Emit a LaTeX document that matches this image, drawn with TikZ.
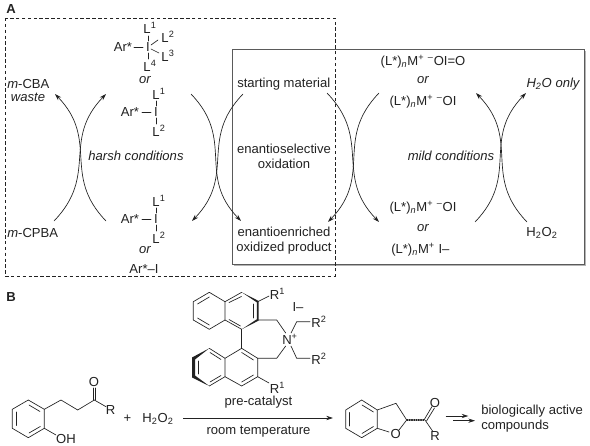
\documentclass[tikz,border=0pt]{standalone}
\usepackage{fontspec}
\setmainfont{Liberation Sans}
\usepackage{tikz}
\usetikzlibrary{arrows.meta}
\definecolor{BoxEdge}{HTML}{5A5A5A}
\definecolor{BoxShade}{HTML}{B4B4B4}
\definecolor{InkGray}{HTML}{222222}
\tikzset{
  lab/.style={font=\fontsize{9.8}{11.2}\selectfont, inner sep=0pt, text=InkGray, align=center},
  orlab/.style={lab, font=\fontsize{9.8}{11.2}\selectfont\itshape},
  bond/.style={draw=InkGray, line width=0.5pt, line cap=round, line join=round},
  cycle/.style={draw=InkGray, line width=0.5pt, -{Stealth[length=5pt,width=3.2pt]}},
  upright/.style={out=46,in=226,looseness=1.2},
  upleft/.style={out=134,in=314,looseness=1.2},
  downright/.style={out=-46,in=134,looseness=1.2},
  downleft/.style={out=226,in=46,looseness=1.2}
}
\begin{document}
\begin{tikzpicture}[x=0.75pt,y=-0.75pt]
  \useasboundingbox (0,0) rectangle (590,446);
  \fill[white] (0,0) rectangle (590,446);

  % panel A frames
  \node[lab, font=\fontsize{9.8}{11}\selectfont\bfseries] (panelA) at (11,9) {A};
  \fill[BoxShade] (234,51) rectangle (586,266);
  \draw[BoxEdge, line width=0.6pt, fill=white] (232,49) rectangle (584,264);
  \draw[InkGray, line width=0.55pt, dash pattern=on 2.6pt off 1.8pt] (5,18) rectangle (335,276);

  % hypervalent iodine, top
  \node[lab] (iA) at (148,47) {I};
  \node[lab] (arA) at (123,47) {Ar*};
  \node[lab] (lA1) at (150,28) {L\textsuperscript{1}};
  \node[lab] (lA2) at (168,37) {L\textsuperscript{2}};
  \node[lab] (lA3) at (168,56) {L\textsuperscript{3}};
  \node[lab] (lA4) at (150,66) {L\textsuperscript{4}};
  \draw[bond] (134,47) -- (143,47);
  \draw[bond] (148.5,36) -- (148.5,41);
  \draw[bond] (148.5,53) -- (148.5,59);
  \draw[bond] (151,45) -- (158,40);
  \draw[bond] (151,49) -- (159,53);
  \node[orlab] (orA) at (145,80) {or};

  \node[lab] (iB) at (156,112) {I};
  \node[lab] (arB) at (130,112) {Ar*};
  \node[lab] (lB1) at (159,94) {L\textsuperscript{1}};
  \node[lab] (lB2) at (159,131) {L\textsuperscript{2}};
  \draw[bond] (142,112) -- (151,112);
  \draw[bond] (156.5,101) -- (156.5,106);
  \draw[bond] (156.5,118) -- (156.5,124);

  % hypervalent iodine, bottom
  \node[lab] (iC) at (156,219) {I};
  \node[lab] (arC) at (130,219) {Ar*};
  \node[lab] (lC1) at (159,201) {L\textsuperscript{1}};
  \node[lab] (lC2) at (159,238) {L\textsuperscript{2}};
  \draw[bond] (142,219) -- (151,219);
  \draw[bond] (156.5,208) -- (156.5,213);
  \draw[bond] (156.5,225) -- (156.5,231);
  \node[orlab] (orC) at (145,250) {or};
  \node[lab] (arI) at (144,269) {Ar*--I};

  \node[lab, anchor=west] (mcba) at (7,84) {\textit{m}-CBA};
  \node[orlab] (waste) at (28,97) {waste};
  \node[lab, anchor=west] (mcpba) at (7,233) {\textit{m}-CPBA};
  \node[orlab] (harsh) at (136,156) {harsh conditions};

  \node[lab, anchor=west] (start) at (237,84) {starting material};
  \node[lab] (enox) at (284,156.5) {enantioselective\\oxidation};
  \node[lab] (prod) at (284,240.5) {enantioenriched\\oxidized product};

  % metal species
  \node[lab] (mA) at (423,62) {(L*)\textsubscript{\textit{n}}M\textsuperscript{+} \textsuperscript{--}OI=O};
  \node[orlab] (orM) at (423,80) {or};
  \node[lab] (mB) at (423,102) {(L*)\textsubscript{\textit{n}}M\textsuperscript{+} \textsuperscript{--}OI};
  \node[lab] (mC) at (423,208) {(L*)\textsubscript{\textit{n}}M\textsuperscript{+} \textsuperscript{--}OI};
  \node[orlab] (orN) at (423,228) {or};
  \node[lab, anchor=west] (mD) at (391,250) {(L*)\textsubscript{\textit{n}}M\textsuperscript{+} I--};
  \node[orlab] (mild) at (451,156) {mild conditions};
  \node[orlab] (water) at (553,84) {H\textsubscript{2}O only};
  \node[lab] (perox) at (542,233) {H\textsubscript{2}O\textsubscript{2}};

  % ends of the crossing arrows
  \coordinate (c1) at (54,221);
  \coordinate (c2) at (106,94);
  \coordinate (c3) at (106,221);
  \coordinate (c4) at (55,94);
  \coordinate (c5) at (191,94);
  \coordinate (c6) at (241,221);
  \coordinate (c7) at (243,94);
  \coordinate (c8) at (192,221);
  \coordinate (c9) at (327,93);
  \coordinate (c10) at (379,222);
  \coordinate (c11) at (379,93);
  \coordinate (c12) at (328,222);
  \coordinate (c13) at (475,222);
  \coordinate (c14) at (526,93);
  \coordinate (c15) at (527,222);
  \coordinate (c16) at (476,93);
  \draw[cycle] (c1) to[upright] (c2);
  \draw[cycle] (c3) to[upleft] (c4);
  \draw[cycle] (c5) to[downright] (c6);
  \draw[cycle] (c7) to[downleft] (c8);
  \draw[cycle] (c9) to[downright] (c10);
  \draw[cycle] (c11) to[downleft] (c12);
  \draw[cycle] (c13) to[upright] (c14);
  \draw[cycle] (c15) to[upleft] (c16);

  % panel B, substrate
  \node[lab, font=\fontsize{9.8}{11}\selectfont\bfseries] (panelB) at (11,297) {B};
  \draw[bond] (28.3,400) -- (44.3,409.3) -- (44.3,428.3) -- (28.3,437.7) -- (12.3,428.3) -- (12.3,409.3) -- cycle;
  \draw[bond] (29,405) -- (40,411.5);
  \draw[bond] (40.3,426.5) -- (29,433);
  \draw[bond] (16,425.5) -- (16,412);
  \draw[bond] (44.3,409.3) -- (61,400) -- (77.7,410) -- (94.3,400) -- (106,406.7);
  \draw[bond] (93,400) -- (93,388);
  \draw[bond] (95.6,400) -- (95.6,388);
  \draw[bond] (44.3,428.3) -- (56,435);
  \node[lab] (oxoA) at (94,381.5) {O};
  \node[lab] (rA) at (110.5,410.5) {R};
  \node[lab] (oh) at (66,438.5) {OH};
  \node[lab] (plus) at (127.5,419) {+};
  \node[lab] (peroxB) at (158,419) {H\textsubscript{2}O\textsubscript{2}};

  % pre-catalyst
  \draw[bond] (193.3,301.7) -- (209.3,292.3) -- (225,301.7) -- (225,320) -- (209.3,329.3) -- (193.3,320) -- cycle;
  \draw[bond] (225,301.7) -- (241.7,292.3);
  \draw[bond] (225,320) -- (241.7,329.3);
  \fill[InkGray] (241.7,292.3) -- (258.7,301) -- (258.7,320.6) -- (241.7,329.3) -- (256.8,319.3) -- (256.8,302.3) -- cycle;
  \draw[bond] (197.5,304) -- (209.3,297);
  \draw[bond] (197.5,318) -- (209.3,325);
  \draw[bond] (229,302.5) -- (241.5,296.5);
  \draw[bond] (229,319.5) -- (240.5,326);
  \draw[bond] (253,304) -- (253,318);
  \draw[bond] (241.7,329.3) -- (241.7,348.3);
  \draw[bond] (257.7,320) -- (276.7,320) -- (285.7,333);
  \draw[bond] (257.7,358.3) -- (276.7,358.3) -- (285.7,346);
  \draw[bond] (241.7,348.3) -- (257.7,358.3) -- (257.7,376.7) -- (241.7,386) -- (225,376.7) -- (225,358.3) -- cycle;
  \draw[bond] (225,358.3) -- (209.3,348.3);
  \draw[bond] (225,376.7) -- (209.3,386);
  \fill[InkGray] (209.3,348.3) -- (192,357.5) -- (192,377.5) -- (209.3,386) -- (195,375.5) -- (195,359.5) -- cycle;
  \draw[bond] (241.7,352.5) -- (253.5,360);
  \draw[bond] (253.5,375) -- (241.7,382);
  \draw[bond] (210,352.5) -- (221,359.5);
  \draw[bond] (210,382) -- (221,375.5);
  \draw[bond] (198.5,361) -- (198.5,374);
  \draw[bond] (257.7,301.7) -- (269,296);
  \draw[bond] (257.7,376.7) -- (269,383);
  \draw[bond] (291,333) -- (296.7,321.7) -- (310,321.7);
  \draw[bond] (291,346) -- (296.7,358.3) -- (310,358.3);
  \node[lab] (rOneA) at (277.5,293.5) {R\textsuperscript{1}};
  \node[lab] (rOneB) at (277.5,387.5) {R\textsuperscript{1}};
  \node[lab] (nPlus) at (290,339) {N\textsuperscript{+}};
  \node[lab] (iodide) at (298,307.5) {I--};
  \node[lab] (rTwoA) at (319,321.5) {R\textsuperscript{2}};
  \node[lab] (rTwoB) at (319,358.5) {R\textsuperscript{2}};
  \node[lab] (precat) at (258.5,402) {pre-catalyst};
  \node[lab] (roomt) at (258.5,431.5) {room temperature};
  \coordinate (rxnL) at (183,418);
  \coordinate (rxnR) at (333,418);
  \draw[cycle] (rxnL) -- (rxnR);

  % product
  \draw[bond] (361.7,400) -- (377.3,410) -- (377.3,428.3) -- (361.7,437.7) -- (345.7,428.3) -- (345.7,410) -- cycle;
  \draw[bond] (362,405) -- (373.5,412);
  \draw[bond] (373.5,426.5) -- (362,433.5);
  \draw[bond] (349.5,426) -- (349.5,412.5);
  \draw[bond] (377.3,410) -- (396,403.3) -- (406.7,420) -- (399,430);
  \draw[bond] (377.3,428.3) -- (389,432);
  \draw[bond, line width=0.9pt, dash pattern=on 0.7pt off 1pt] (407,420) -- (425,420);
  \draw[bond] (424,420) -- (432,406.5);
  \draw[bond] (426.5,421) -- (434.5,408);
  \draw[bond] (425,420) -- (433,431.7);
  \node[lab] (oRing) at (395.7,434) {O};
  \node[lab] (oxoB) at (435,402.7) {O};
  \node[lab] (rB) at (435,436) {R};
  \coordinate (nxtA) at (445.7,416);
  \coordinate (nxtB) at (468.3,416);
  \coordinate (nxtC) at (453.3,420.7);
  \coordinate (nxtD) at (475,420.7);
  \draw[cycle] (nxtA) -- (nxtB);
  \draw[cycle] (nxtC) -- (nxtD);
  \node[lab, anchor=west, align=left] (bio) at (481,418.5) {biologically active\\compounds};
\end{tikzpicture}
\end{document}
